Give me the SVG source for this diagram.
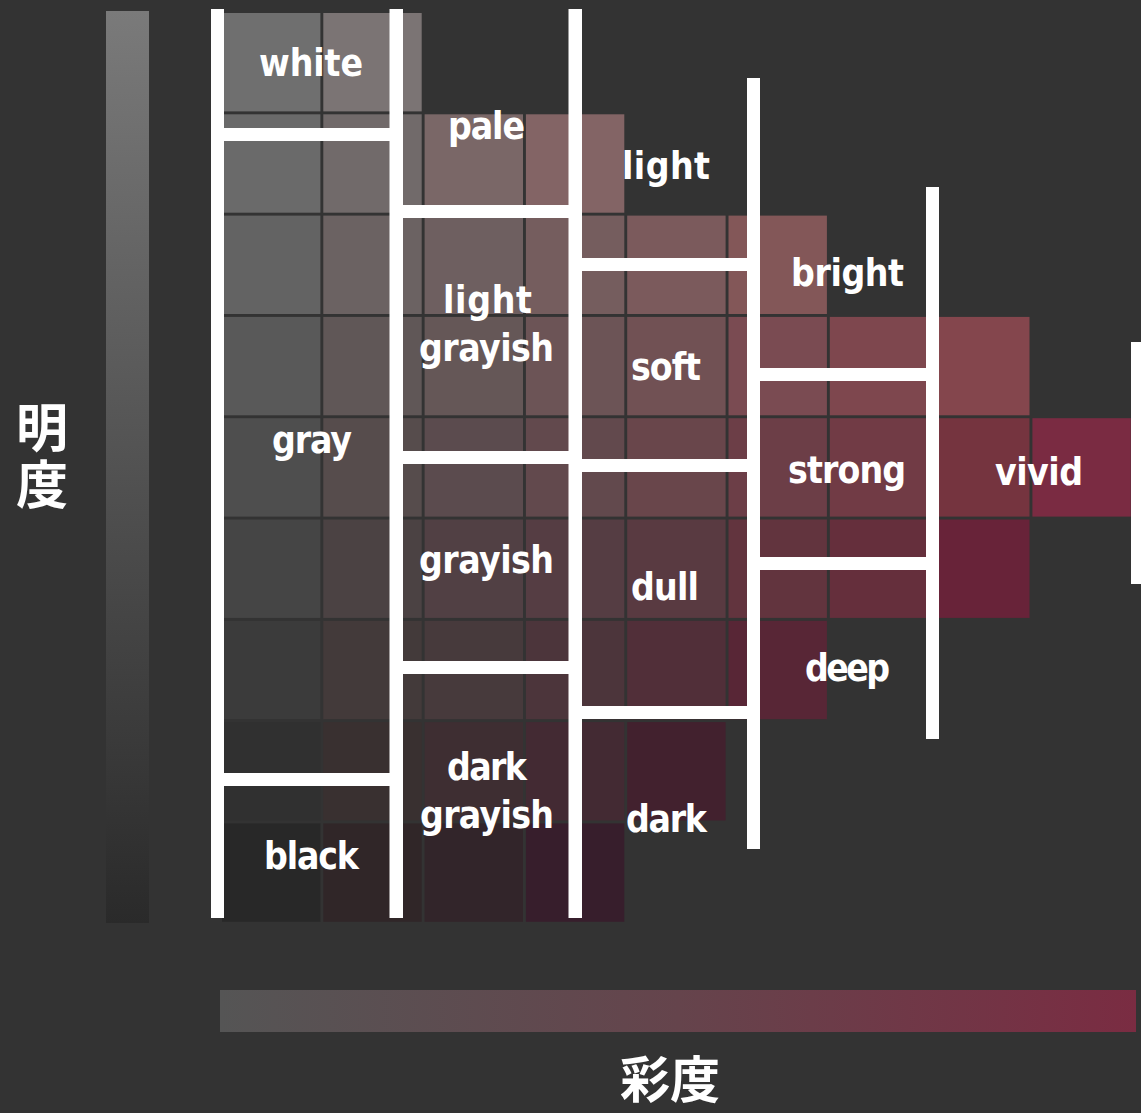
<svg xmlns="http://www.w3.org/2000/svg" width="1141" height="1113" viewBox="0 0 1141 1113">
<defs>
<linearGradient id="gV" x1="0" y1="0" x2="0" y2="1">
<stop offset="0" stop-color="#7a7a7a"/>
<stop offset="1" stop-color="#2a2a2a"/>
</linearGradient>
<linearGradient id="gH" x1="0" y1="0" x2="1" y2="0">
<stop offset="0" stop-color="#555555"/>
<stop offset="0.5" stop-color="#65444c"/>
<stop offset="1" stop-color="#7a2c42"/>
</linearGradient>
<style>
.bar{fill:#ffffff}
.lbl{fill:#ffffff;font-family:"Liberation Sans Narrow","DejaVu Sans Condensed","Open Sans",sans-serif;font-weight:bold;font-size:37px}
.jp{fill:#ffffff;font-family:"Noto Sans CJK JP","Noto Sans CJK SC",sans-serif;font-weight:bold;font-size:52px}
</style>
</defs>
<rect x="0" y="0" width="1141" height="1113" fill="#333333"/>

<g id="lightness-axis">
<rect x="106" y="11" width="43" height="912" fill="url(#gV)"/>
<text class="jp" x="42" y="401" writing-mode="vertical-rl" letter-spacing="5">明度</text>
</g>
<g id="saturation-axis">
<rect x="220" y="990" width="916" height="42" fill="url(#gH)"/>
<text class="jp" x="670" y="1098" text-anchor="middle" style="font-size:50px">彩度</text>
</g>

<g id="grid">
<g id="row0">
<rect x="222" y="13" width="98.4" height="98.4" fill="#6f6f6f"/>
<rect x="323.3" y="13" width="98.4" height="98.4" fill="#7b7474"/>
</g>
<g id="row1">
<rect x="222" y="114.3" width="98.4" height="98.4" fill="#6a6a6a"/>
<rect x="323.3" y="114.3" width="98.4" height="98.4" fill="#716a6a"/>
<rect x="424.6" y="114.3" width="98.4" height="98.4" fill="#7a6767"/>
<rect x="525.9" y="114.3" width="98.4" height="98.4" fill="#836465"/>
</g>
<g id="row2">
<rect x="222" y="215.6" width="98.4" height="98.4" fill="#636363"/>
<rect x="323.3" y="215.6" width="98.4" height="98.4" fill="#6b6262"/>
<rect x="424.6" y="215.6" width="98.4" height="98.4" fill="#6e5f60"/>
<rect x="525.9" y="215.6" width="98.4" height="98.4" fill="#755d5e"/>
<rect x="627.2" y="215.6" width="98.4" height="98.4" fill="#7b5a5c"/>
<rect x="728.5" y="215.6" width="98.4" height="98.4" fill="#835758"/>
</g>
<g id="row3">
<rect x="222" y="316.9" width="98.4" height="98.4" fill="#595959"/>
<rect x="323.3" y="316.9" width="98.4" height="98.4" fill="#605757"/>
<rect x="424.6" y="316.9" width="98.4" height="98.4" fill="#655757"/>
<rect x="525.9" y="316.9" width="98.4" height="98.4" fill="#6c5456"/>
<rect x="627.2" y="316.9" width="98.4" height="98.4" fill="#715154"/>
<rect x="728.5" y="316.9" width="98.4" height="98.4" fill="#7a4b52"/>
<rect x="829.8" y="316.9" width="98.4" height="98.4" fill="#7e474e"/>
<rect x="931.1" y="316.9" width="98.4" height="98.4" fill="#84464d"/>
</g>
<g id="row4">
<rect x="222" y="418.2" width="98.4" height="98.4" fill="#4e4e4e"/>
<rect x="323.3" y="418.2" width="98.4" height="98.4" fill="#564c4c"/>
<rect x="424.6" y="418.2" width="98.4" height="98.4" fill="#5b4b4e"/>
<rect x="525.9" y="418.2" width="98.4" height="98.4" fill="#62494d"/>
<rect x="627.2" y="418.2" width="98.4" height="98.4" fill="#69464b"/>
<rect x="728.5" y="418.2" width="98.4" height="98.4" fill="#6c3e47"/>
<rect x="829.8" y="418.2" width="98.4" height="98.4" fill="#713b45"/>
<rect x="931.1" y="418.2" width="98.4" height="98.4" fill="#75343f"/>
<rect x="1032.4" y="418.2" width="98.4" height="98.4" fill="#7a2b42"/>
</g>
<g id="row5">
<rect x="222" y="519.5" width="98.4" height="98.4" fill="#454545"/>
<rect x="323.3" y="519.5" width="98.4" height="98.4" fill="#4b4243"/>
<rect x="424.6" y="519.5" width="98.4" height="98.4" fill="#514044"/>
<rect x="525.9" y="519.5" width="98.4" height="98.4" fill="#553d43"/>
<rect x="627.2" y="519.5" width="98.4" height="98.4" fill="#593a41"/>
<rect x="728.5" y="519.5" width="98.4" height="98.4" fill="#62343e"/>
<rect x="829.8" y="519.5" width="98.4" height="98.4" fill="#652f3c"/>
<rect x="931.1" y="519.5" width="98.4" height="98.4" fill="#682339"/>
</g>
<g id="row6">
<rect x="222" y="620.8" width="98.4" height="98.4" fill="#3b3b3b"/>
<rect x="323.3" y="620.8" width="98.4" height="98.4" fill="#433a3a"/>
<rect x="424.6" y="620.8" width="98.4" height="98.4" fill="#473a3c"/>
<rect x="525.9" y="620.8" width="98.4" height="98.4" fill="#4c353b"/>
<rect x="627.2" y="620.8" width="98.4" height="98.4" fill="#512f39"/>
<rect x="728.5" y="620.8" width="98.4" height="98.4" fill="#582636"/>
</g>
<g id="row7">
<rect x="222" y="722.1" width="98.4" height="98.4" fill="#303030"/>
<rect x="323.3" y="722.1" width="98.4" height="98.4" fill="#393030"/>
<rect x="424.6" y="722.1" width="98.4" height="98.4" fill="#3e2e32"/>
<rect x="525.9" y="722.1" width="98.4" height="98.4" fill="#432a33"/>
<rect x="627.2" y="722.1" width="98.4" height="98.4" fill="#42212e"/>
</g>
<g id="row8">
<rect x="222" y="823.4" width="98.4" height="98.4" fill="#282828"/>
<rect x="323.3" y="823.4" width="98.4" height="98.4" fill="#302628"/>
<rect x="424.6" y="823.4" width="98.4" height="98.4" fill="#32252a"/>
<rect x="525.9" y="823.4" width="98.4" height="98.4" fill="#371e2c"/>
</g>
</g>

<g id="connectors">
<rect class="bar" x="211" y="9" width="13" height="909"/>
<rect class="bar" x="389.5" y="9" width="13.5" height="909"/>
<rect class="bar" x="568.5" y="9" width="13.5" height="909"/>
<rect class="bar" x="747" y="78" width="13" height="771"/>
<rect class="bar" x="926" y="187" width="13" height="552"/>
<rect class="bar" x="1131" y="342" width="12" height="242"/>
<rect class="bar" x="223" y="128" width="167" height="13"/>
<rect class="bar" x="223" y="773" width="167" height="13"/>
<rect class="bar" x="402" y="205" width="167" height="13"/>
<rect class="bar" x="402" y="451" width="167" height="13"/>
<rect class="bar" x="402" y="661" width="167" height="13"/>
<rect class="bar" x="581" y="258" width="167" height="13"/>
<rect class="bar" x="581" y="459" width="167" height="13"/>
<rect class="bar" x="581" y="706" width="167" height="13"/>
<rect class="bar" x="759" y="368" width="168" height="13"/>
<rect class="bar" x="759" y="557" width="168" height="13"/>
</g>

<g id="node-white"><text class="lbl" x="259" y="76" textLength="104" lengthAdjust="spacing">white</text></g>
<g id="node-pale"><text class="lbl" x="448" y="139" textLength="77" lengthAdjust="spacing">pale</text></g>
<g id="node-light"><text class="lbl" x="622" y="179" textLength="88" lengthAdjust="spacing">light</text></g>
<g id="node-bright"><text class="lbl" x="791" y="286" textLength="113" lengthAdjust="spacing">bright</text></g>
<g id="node-light-grayish">
<text class="lbl" x="443" y="313" textLength="89" lengthAdjust="spacing">light</text>
<text class="lbl" x="419" y="361" textLength="135" lengthAdjust="spacing">grayish</text>
</g>
<g id="node-soft"><text class="lbl" x="631" y="380" textLength="70" lengthAdjust="spacing">soft</text></g>
<g id="node-gray"><text class="lbl" x="272" y="453" textLength="80" lengthAdjust="spacing">gray</text></g>
<g id="node-strong"><text class="lbl" x="788" y="483" textLength="118" lengthAdjust="spacing">strong</text></g>
<g id="node-vivid"><text class="lbl" x="995" y="485" textLength="88" lengthAdjust="spacing">vivid</text></g>
<g id="node-grayish"><text class="lbl" x="419" y="573" textLength="135" lengthAdjust="spacing">grayish</text></g>
<g id="node-dull"><text class="lbl" x="631" y="600" textLength="68" lengthAdjust="spacing">dull</text></g>
<g id="node-deep"><text class="lbl" x="805" y="681" textLength="85" lengthAdjust="spacing">deep</text></g>
<g id="node-dark-grayish">
<text class="lbl" x="447" y="780" textLength="80" lengthAdjust="spacing">dark</text>
<text class="lbl" x="420" y="828" textLength="134" lengthAdjust="spacing">grayish</text>
</g>
<g id="node-dark"><text class="lbl" x="626" y="832" textLength="81" lengthAdjust="spacing">dark</text></g>
<g id="node-black"><text class="lbl" x="264" y="869" textLength="95" lengthAdjust="spacing">black</text></g>
</svg>
